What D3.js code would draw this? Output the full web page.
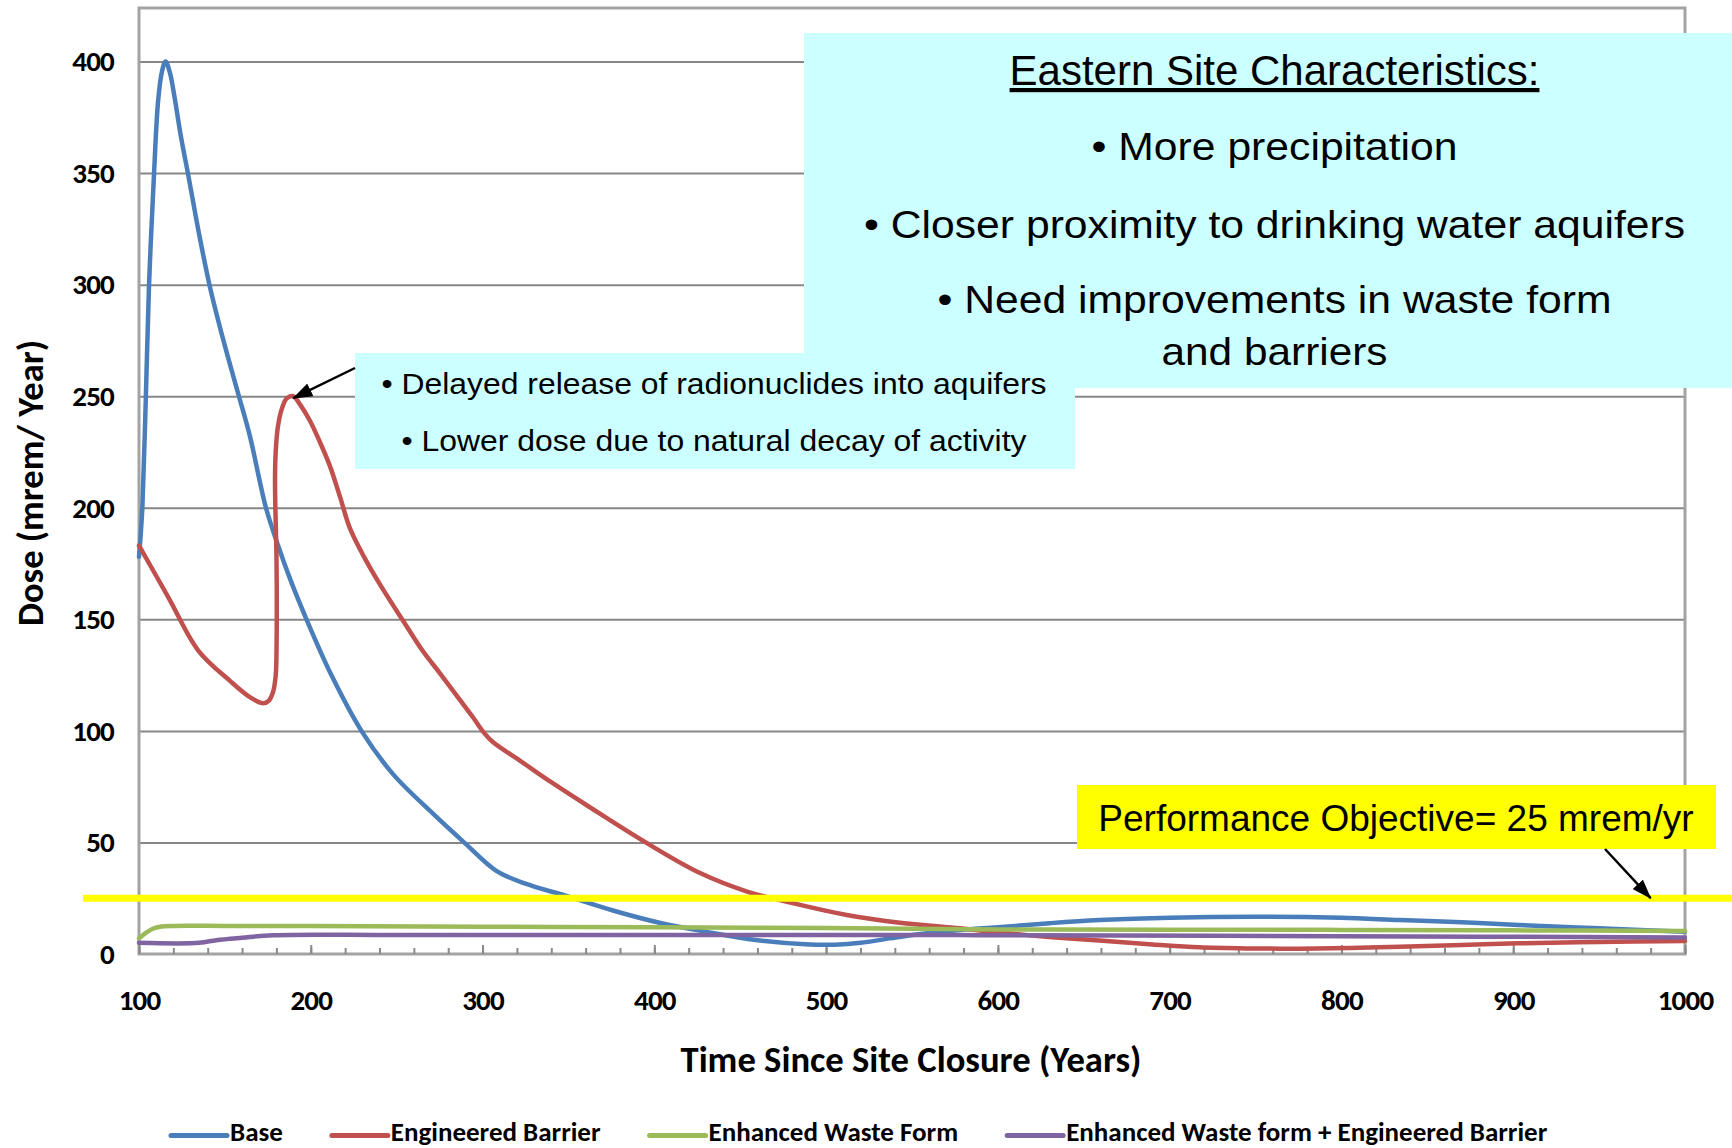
<!DOCTYPE html>
<html>
<head>
<meta charset="utf-8">
<script src="https://cdn.jsdelivr.net/npm/d3@7"></script>
<style>
  body { margin: 0; background: #ffffff; }
  svg { display: block; }
</style>
</head>
<body>
<svg id="chart" width="1732" height="1148"></svg>
<script>
// Projected dose (mrem/yr) against years since site closure, four design cases.
// Each entry is [year, dose].
const baseSeries = [
  [100,178],[101,188],[102,201],[104,250],[105.8,299],[108.7,349],[111.2,383],[113.5,396],[115.5,400],
  [118,395],[120.9,383],[124.5,366],[128.7,349],[134.9,323],[141.3,299],[149.5,274],[157.8,251],
  [164.6,232],[173.9,200],[181,183],[188,168],[197.5,150],[212,125],[229.5,100],[248,80.5],
  [271,63],[290,49.5],[308,37.3],[325,31.5],[348.8,26],[375.9,19.5],[403,14],[430,10],[459,6.3],
  [488,4.4],[505,4.2],[520,5],[537,7],[555,9],[578,10.8],[600,12],[630,13.8],[659,15.2],
  [700,16.3],[756,16.7],[800,16.2],[834,15.2],[870,14.2],[903,13],[950,11.5],[1000,10]
];
const engineeredSeries = [
  [100,183],[117,160],[134.5,136],[153,122.4],[165,114.9],[172.3,112.4],[175.5,113.5],[178,117.3],
  [179.6,125],[180.1,140],[180.2,160],[180,180],[179.4,199],[179.2,215],[179.8,228],[181,237],
  [183,244],[186,249],[189.8,250],[194,246],[199.5,239],[205,230],[211,219],[217,205],[222.7,191],
  [231,178],[240,166],[255.7,147],[265,136],[275,126],[286.7,114],[294.5,106],[301,99],[306,95],
  [323,86],[340,77],[362,66],[395,50],[426,36.5],[454,28],[485,22],[512,17.5],[543,14],[578,11.5],
  [601,9.6],[630,7.6],[659,6],[690,4.3],[717,3],[745,2.5],[775,2.4],[805,2.7],[834,3.3],[870,4],
  [903,4.8],[950,5.4],[1000,5.8]
];
const wasteFormSeries = [
  [100,7],[104,9.5],[108,11.3],[113,12.3],[120,12.6],[150,12.6],[200,12.5],[300,12.2],[400,12],
  [500,11.6],[600,11],[700,10.9],[800,10.8],[900,10.6],[1000,10.3]
];
const combinedSeries = [
  [100,5],[135,5],[145,6.2],[160,7.3],[178,8.4],[250,8.5],[400,8.5],[578,8.5],[600,8.4],
  [800,8],[1000,7.4]
];
const seriesNames = ["Base", "Engineered Barrier", "Enhanced Waste Form",
                     "Enhanced Waste form + Engineered Barrier"];
const seriesColors = ["#4a7ebb", "#c0504d", "#9bbb59", "#8064a2"];

const xTickValues = [100, 200, 300, 400, 500, 600, 700, 800, 900, 1000];
const yTickValues = [0, 50, 100, 150, 200, 250, 300, 350, 400];
const performanceObjective = 25;

const xTitle = "Time Since Site Closure (Years)";
const yTitle = "Dose (mrem/ Year)";
const siteNotes = ["Eastern Site Characteristics:", "\u2022 More precipitation",
                   "\u2022 Closer proximity to drinking water aquifers",
                   "\u2022 Need improvements in waste form", "and barriers"];
const barrierNotes = ["\u2022 Delayed release of radionuclides into aquifers",
                      "\u2022 Lower dose due to natural decay of activity"];
const objectiveLabel = "Performance Objective= 25 mrem/yr";

// ---------------------------------------------------------------------------
const svg = d3.select("#chart");
const W = 1732, H = 1148;
const plot = { left: 139, right: 1685, top: 8, bottom: 954 };
const boldFont = "Carlito, 'Liberation Sans', Arial, sans-serif";
const plainFont = "'Liberation Sans', Arial, Helvetica, sans-serif";

svg.append("rect").attr("width", W).attr("height", H).attr("fill", "#ffffff");

const x = d3.scaleLinear().domain([100, 1000]).range([plot.left, plot.right]);
const y = d3.scaleLinear().domain([0, 424]).range([plot.bottom, plot.top]);

// horizontal gridlines
const grid = svg.append("g")
  .attr("transform", `translate(${plot.left},0)`)
  .call(d3.axisLeft(y).tickValues(yTickValues.filter(v => v > 0))
    .tickSize(-(plot.right - plot.left)).tickFormat(""));
grid.select(".domain").remove();
grid.selectAll("line").attr("stroke", "#878787").attr("stroke-width", 2);

// plot frame
svg.append("rect")
  .attr("x", plot.left).attr("y", plot.top)
  .attr("width", plot.right - plot.left).attr("height", plot.bottom - plot.top)
  .attr("fill", "none").attr("stroke", "#a3a3a3").attr("stroke-width", 3);

// inward tick marks on the time axis (minor every 20 years, major every 100)
const minorTicks = svg.append("g")
  .attr("transform", `translate(0,${plot.bottom})`)
  .call(d3.axisBottom(x).tickValues(d3.range(100, 1001, 20)).tickSizeInner(-6).tickSizeOuter(0).tickFormat(""));
minorTicks.select(".domain").remove();
minorTicks.selectAll("line").attr("stroke", "#8a8a8a").attr("stroke-width", 2);

const majorTicks = svg.append("g")
  .attr("transform", `translate(0,${plot.bottom})`)
  .call(d3.axisBottom(x).tickValues(xTickValues).tickSizeInner(-9).tickSizeOuter(0).tickFormat(""));
majorTicks.select(".domain").remove();
majorTicks.selectAll("line").attr("stroke", "#8a8a8a").attr("stroke-width", 2);

// tick labels
const xLabels = svg.append("g")
  .attr("transform", `translate(0,${plot.bottom})`)
  .call(d3.axisBottom(x).tickValues(xTickValues).tickSize(0).tickPadding(35).tickFormat(d3.format("d")));
xLabels.select(".domain").remove();
xLabels.attr("font-family", boldFont).attr("font-size", 29).attr("font-weight", "bold");
xLabels.selectAll("text").attr("fill", "#000").attr("letter-spacing", "-0.8px");

const yLabels = svg.append("g")
  .attr("transform", `translate(${plot.left},0)`)
  .call(d3.axisLeft(y).tickValues(yTickValues).tickSize(0).tickPadding(25).tickFormat(d3.format("d")));
yLabels.select(".domain").remove();
yLabels.attr("font-family", boldFont).attr("font-size", 29).attr("font-weight", "bold");
yLabels.selectAll("text").attr("fill", "#000").attr("letter-spacing", "-0.8px");

// axis titles
svg.append("text")
  .attr("x", 911).attr("y", 1072)
  .attr("text-anchor", "middle")
  .attr("font-family", boldFont).attr("font-size", 37).attr("font-weight", "bold")
  .attr("textLength", 461).attr("lengthAdjust", "spacingAndGlyphs")
  .text(xTitle);

svg.append("text")
  .attr("transform", "translate(43,483) rotate(-90)")
  .attr("text-anchor", "middle")
  .attr("font-family", boldFont).attr("font-size", 37).attr("font-weight", "bold")
  .attr("textLength", 286).attr("lengthAdjust", "spacingAndGlyphs")
  .text(yTitle);

// dose curves (smoothed, drawn in series order)
const line = d3.line()
  .x(d => x(d[0]))
  .y(d => y(d[1]))
  .curve(d3.curveCatmullRom.alpha(0.5));

const allSeries = [baseSeries, engineeredSeries, wasteFormSeries, combinedSeries];
svg.append("g").selectAll("path")
  .data(allSeries)
  .join("path")
  .attr("d", line)
  .attr("fill", "none")
  .attr("stroke", (d, i) => seriesColors[i])
  .attr("stroke-width", 4.5)
  .attr("stroke-linejoin", "round")
  .attr("stroke-linecap", "round");

// performance objective line
svg.append("line")
  .attr("x1", 83).attr("x2", W)
  .attr("y1", y(performanceObjective)).attr("y2", y(performanceObjective))
  .attr("stroke", "#ffff00").attr("stroke-width", 7);

// callout boxes
svg.append("rect")
  .attr("x", 804).attr("y", 33).attr("width", 930).attr("height", 355)
  .attr("fill", "#ccffff");

const siteBaselines = [85, 160, 238, 313, 365];
const siteSizes = [42, 39, 39, 39, 39];
const siteWidths = [null, 366, 821, 674, 226];
siteNotes.forEach((t, i) => {
  const el = svg.append("text")
    .attr("x", 1274.5).attr("y", siteBaselines[i])
    .attr("text-anchor", "middle")
    .attr("font-family", plainFont).attr("font-size", siteSizes[i])
    .attr("fill", "#000")
    .text(t);
  if (i === 0) el.attr("text-decoration", "underline");
  if (siteWidths[i]) el.attr("textLength", siteWidths[i]).attr("lengthAdjust", "spacingAndGlyphs");
});

svg.append("rect")
  .attr("x", 355).attr("y", 353).attr("width", 720).attr("height", 116)
  .attr("fill", "#ccffff");

const barrierBaselines = [394, 451];
const barrierWidths = [665, 625];
barrierNotes.forEach((t, i) => {
  svg.append("text")
    .attr("x", 714).attr("y", barrierBaselines[i])
    .attr("text-anchor", "middle")
    .attr("font-family", plainFont).attr("font-size", 30)
    .attr("textLength", barrierWidths[i]).attr("lengthAdjust", "spacingAndGlyphs")
    .attr("fill", "#000")
    .text(t);
});

svg.append("rect")
  .attr("x", 1077).attr("y", 785).attr("width", 639).attr("height", 64)
  .attr("fill", "#ffff00");
svg.append("text")
  .attr("x", 1396).attr("y", 831)
  .attr("text-anchor", "middle")
  .attr("font-family", plainFont).attr("font-size", 37)
  .attr("fill", "#000")
  .text(objectiveLabel);

// arrows
const defs = svg.append("defs");
defs.append("marker")
  .attr("id", "arrowhead")
  .attr("markerUnits", "userSpaceOnUse")
  .attr("markerWidth", 20).attr("markerHeight", 14)
  .attr("refX", 19).attr("refY", 7)
  .attr("orient", "auto")
  .append("path")
  .attr("d", "M0,0 L20,7 L0,14 Z")
  .attr("fill", "#000");

const peak = engineeredSeries.filter(d => d[0] > 150).reduce((a, b) => (b[1] > a[1] ? b : a));
svg.append("line")
  .attr("x1", 355).attr("y1", 368)
  .attr("x2", x(peak[0])).attr("y2", y(peak[1]) + 2)
  .attr("stroke", "#000").attr("stroke-width", 2.5)
  .attr("marker-end", "url(#arrowhead)");

svg.append("line")
  .attr("x1", 1605).attr("y1", 849)
  .attr("x2", x(980)).attr("y2", y(performanceObjective))
  .attr("stroke", "#000").attr("stroke-width", 2.5)
  .attr("marker-end", "url(#arrowhead)");

// legend
const legend = svg.append("g").attr("font-family", boldFont).attr("font-size", 27).attr("font-weight", "bold");
let lx = 171;
seriesNames.forEach((name, i) => {
  legend.append("line")
    .attr("x1", lx).attr("x2", lx + 56)
    .attr("y1", 1135.5).attr("y2", 1135.5)
    .attr("stroke", seriesColors[i]).attr("stroke-width", 5)
    .attr("stroke-linecap", "round");
  const t = legend.append("text")
    .attr("x", lx + 59).attr("y", 1141)
    .attr("fill", "#000")
    .text(name);
  lx = lx + 59 + t.node().getComputedTextLength() + 49;
});
</script>
</body>
</html>
